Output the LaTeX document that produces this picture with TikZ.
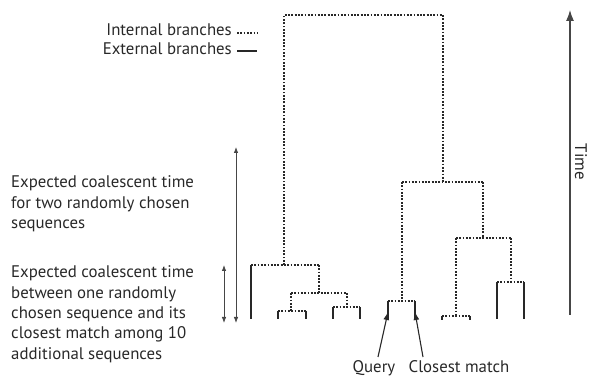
\documentclass[tikz,border=0pt]{standalone}
\usepackage{fontspec}
\setmainfont{PT Sans}
\usetikzlibrary{arrows.meta}
\definecolor{ink}{RGB}{40,40,40}
\definecolor{guide}{RGB}{70,70,70}
\tikzset{
  internal/.style={ink, line width=1.9pt, dash pattern=on 1.8pt off 1.5pt},
  external/.style={ink, line width=1.7pt},
  label/.style={text=ink, font=\fontsize{16.8}{20.5}\selectfont, inner sep=0pt},
  span/.style={guide, line width=0.8pt, {Latex[length=6pt,width=4.5pt]}-{Latex[length=6pt,width=4.5pt]}},
  pointer/.style={ink, line width=1.1pt, -{Latex[length=8pt,width=6pt]}}
}
\begin{document}
\begin{tikzpicture}[x=1pt,y=-1pt]
\useasboundingbox (0,0) rectangle (590,377);

% branch points of the genealogy
\coordinate (rl) at (284,15);  \coordinate (rr) at (443,15);
% left clade
\coordinate (A) at (284,265);
\coordinate (A1) at (251,265); \coordinate (A2) at (319,265);
\coordinate (B1) at (291,293); \coordinate (B2) at (347,293);
\coordinate (C1) at (278,311); \coordinate (C2) at (306,311);
\coordinate (D1) at (333,307); \coordinate (D2) at (360,307);
% right clade
\coordinate (E1) at (402,182); \coordinate (E2) at (483,182);
\coordinate (F1) at (388,301); \coordinate (F2) at (415,301);
\coordinate (G1) at (456,238); \coordinate (G2) at (511,238);
\coordinate (H1) at (442,316); \coordinate (H2) at (470,316);
\coordinate (K1) at (497,282); \coordinate (K2) at (524,282);

% internal branches
\draw[internal] (A) -- (rl) -- (rr) -- (rr |- E1);
\draw[internal] (A1) -- (A2);
\draw[internal] (A2) -- (A2 |- B1);
\draw[internal] (B1) -- (B2);
\draw[internal] (B1) -- (B1 |- C1);
\draw[internal] (C1) -- (C2);
\draw[internal] (B2) -- (B2 |- D1);
\draw[internal] (D1) -- (D2);
\draw[internal] (E1) -- (E2);
\draw[internal] (E1) -- (E1 |- F1);
\draw[internal] (F1) -- (F2);
\draw[internal] (E2) -- (E2 |- G1);
\draw[internal] (G1) -- (G2);
\draw[internal] (G1) -- (G1 |- H1);
\draw[internal] (H1) -- (H2);
\draw[internal] (G2) -- (G2 |- K1);
\draw[internal] (K1) -- (K2);

% external branches (leaves)
\draw[external] (A1) -- (251,319);
\draw[external] (C1) -- (278,319);
\draw[external] (C2) -- (306,319);
\draw[external] (D1) -- (333,319);
\draw[external] (D2) -- (360,319);
\coordinate (query) at (388,319);
\coordinate (match) at (415,319);
\draw[external] (F1) -- (query);
\draw[external] (F2) -- (match);
\draw[external] (H1) -- (442,320);
\draw[external] (H2) -- (470,320);
\draw[external] (K1) -- (497,319);
\draw[external] (K2) -- (524,319);

% legend
\node[label, anchor=base east] (intl) at (232,36) {Internal branches};
\node[label, anchor=base east] (extl) at (232,55) {External branches};
\draw[internal] ([xshift=5pt]intl.east |- 0,33) coordinate (li) -- ++(20,0);
\draw[external] ([xshift=5pt]extl.east |- 0,51) coordinate (le) -- ++(20,0);

% coalescent time spans
\coordinate (long top) at (236,147);  \coordinate (long bot) at (236,323);
\coordinate (short top) at (224,265); \coordinate (short bot) at (224,323);
\draw[span] (long top) -- (long bot);
\draw[span] (short top) -- (short bot);

\foreach \txt [count=\i] in {Expected coalescent time, for two randomly chosen, sequences}
  \node[label, anchor=base west] (pair\i) at (11,{188+20.5*(\i-1)}) {\txt};
\foreach \txt [count=\i] in {Expected coalescent time, between one randomly,
    chosen sequence and its, closest match among 10, additional sequences}
  \node[label, anchor=base west] (closest\i) at (11,{278+20.3*(\i-1)}) {\txt};

% time axis
\coordinate (t0) at (570,315); \coordinate (t1) at (570,10);
\draw[guide, line width=1.2pt, -{Latex[length=11pt,width=8pt]}] (t0) -- (t1);
\node[label, rotate=-90] (time) at (581,162) {Time};

% query and its closest match
\node[label, anchor=base] (qlab) at (374,372) {Query};
\node[label, anchor=base] (mlab) at (459,372) {Closest match};
\draw[pointer] (378,357) -- ([yshift=7pt]query);
\draw[pointer] (423,357) -- ([yshift=7pt]match);
\end{tikzpicture}
\end{document}
